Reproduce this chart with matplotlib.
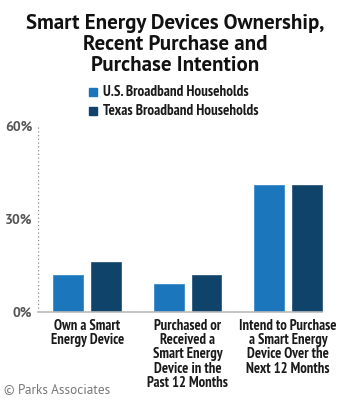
import matplotlib
matplotlib.use("Agg")
import matplotlib.pyplot as plt
import numpy as np

categories = ["Own a Smart\nEnergy Device",
              "Purchased or\nReceived a\nSmart Energy\nDevice in the\nPast 12 Months",
              "Intend to Purchase\na Smart Energy\nDevice Over the\nNext 12 Months"]
series_names = ["U.S. Broadband Households", "Texas Broadband Households"]
us_values = [12, 9, 41]
texas_values = [16, 12, 41]
ytick_values = [0, 30, 60]
ytick_labels = ["0%", "30%", "60%"]

US_COLOR = "#1b76bc"
TX_COLOR = "#0f436a"

NARROW = ["PT Sans Narrow", "DejaVu Sans"]
MYRIAD = ["PT Sans", "DejaVu Sans"]

fig = plt.figure(figsize=(3.5, 4.0), dpi=100)
ax = fig.add_axes([38/350, 88/400, 285/350, 186/400])

x = np.arange(len(categories))
w = 0.2985
off = 0.189
ax.bar(x - off, us_values, w, color=US_COLOR, edgecolor="#3d8ccb", linewidth=0.6, zorder=3)
ax.bar(x + off, texas_values, w, color=TX_COLOR, edgecolor="#2e5a7e", linewidth=0.6, zorder=3)

ax.set_xlim(-0.49, 2.35)
ax.set_ylim(0, 60)
for s in ax.spines.values():
    s.set_visible(False)
ax.axvline(-0.49, color="#8a8a8a", linestyle=(0, (1, 2)), linewidth=0.9, zorder=2)
ax.plot([-0.49, 2 + off + w/2], [0, 0], color="#bbbbbb", linewidth=1.2, zorder=4, clip_on=False)

ax.set_yticks(ytick_values)
ax.set_yticklabels(ytick_labels, fontsize=10, color="#555555", fontweight="bold", family=MYRIAD)
ax.tick_params(axis="y", length=0, pad=4)
ax.set_xticks(x)
ax.set_xticklabels(categories, fontsize=10.5, fontweight="bold", color="#1a1a1a",
                   family=NARROW, linespacing=1.02)
ax.tick_params(axis="x", length=0, pad=5)

fig.text(0.5, 1 - 14/400, "Smart Energy Devices Ownership,\nRecent Purchase and\nPurchase Intention",
         ha="center", va="top", fontsize=15, fontweight="bold", family=MYRIAD,
         color="#111111", linespacing=1.12)

# legend
ly = [92, 111]
for i, (nm, c) in enumerate(zip(series_names, [US_COLOR, TX_COLOR])):
    fig.patches.append(plt.Rectangle((89/350, (400 - ly[i] - 4)/400), 8/350, 8/400,
                                     transform=fig.transFigure, color=c))
    fig.text(103/350, (400 - ly[i])/400, nm, ha="left", va="center", fontsize=10.8,
             fontweight="bold", family=NARROW, color="#1a1a1a")

fig.text(4/350, 10/400, "\u00a9 Parks Associates", ha="left", va="center", fontsize=9.5,
         color="#777777", family=MYRIAD)

fig.savefig("out.png", dpi=100)
